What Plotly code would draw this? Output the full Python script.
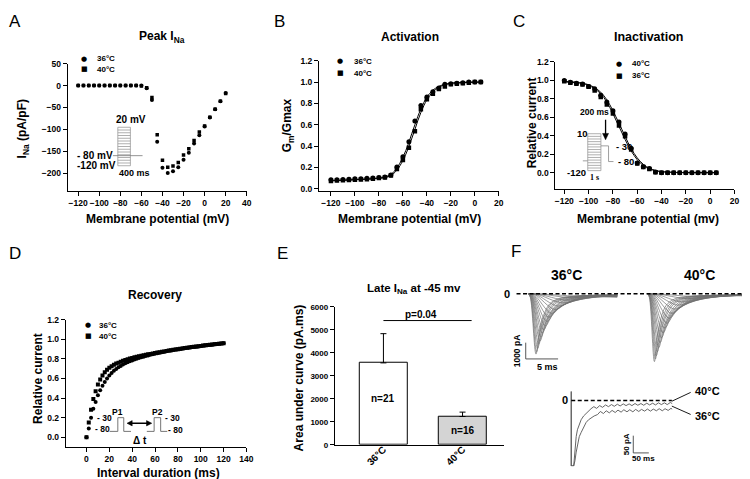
import plotly.graph_objects as go

W, H = 750, 479

# ---------------- data ----------------
# A: peak I_Na (pA/pF) vs membrane potential (mV)
a_volt = [-120, -115, -110, -105, -100, -95, -90, -85, -80, -75, -70, -65, -60,
          -55, -50, -45, -40, -35, -30, -25, -20, -15, -10, -5, 0, 5, 10, 15, 20]
a_36 = [0, 0, 0, 0, 0, 0, 0, 0, 0, 0, 0, 0, 0,
        -6, -33, -128, -187, -199, -195, -186, -169, -153, -132, -113, -93, -73, -54, -36, -17]
a_40 = [0, 0, 0, 0, 0, 0, 0, 0, 0, 0, 0, 0, -1,
        -5, -27, -112, -170, -186, -183, -175, -158, -144, -125, -106, -92, -72, -54, -36, -18]

# B: activation G/Gmax
b_volt = [-120, -115, -110, -105, -100, -95, -90, -85, -80, -75, -70, -65, -60,
          -55, -50, -45, -40, -35, -30, -25, -20, -15, -10, -5, 0, 5]
b_36 = [0.085, 0.085, 0.087, 0.09, 0.093, 0.095, 0.098, 0.1, 0.105, 0.11, 0.13, 0.205, 0.3,
        0.44, 0.635, 0.78, 0.86, 0.91, 0.945, 0.98, 0.985, 0.99, 0.995, 1.0, 1.0, 1.0]
b_40 = [0.073, 0.077, 0.08, 0.083, 0.085, 0.088, 0.09, 0.095, 0.1, 0.105, 0.125, 0.185, 0.27,
        0.385, 0.54, 0.745, 0.84, 0.89, 0.935, 0.96, 0.98, 0.985, 0.99, 0.995, 1.0, 1.0]
b_fit_v = [-120, -110, -100, -90, -80, -75, -70, -67.5, -65, -62.5, -60, -57.5, -55, -52.5,
           -50, -47.5, -45, -42.5, -40, -37.5, -35, -30, -25, -20, -10, 5]
b_fit_36 = [0.075, 0.08, 0.085, 0.09, 0.1, 0.11, 0.135, 0.16, 0.195, 0.24, 0.295, 0.36, 0.435, 0.52,
            0.6, 0.68, 0.75, 0.81, 0.86, 0.895, 0.925, 0.96, 0.98, 0.99, 0.997, 1.0]
b_fit_40 = [0.075, 0.08, 0.085, 0.09, 0.098, 0.105, 0.125, 0.145, 0.175, 0.215, 0.265, 0.325, 0.395, 0.475,
            0.555, 0.64, 0.715, 0.78, 0.835, 0.875, 0.91, 0.95, 0.975, 0.988, 0.996, 1.0]

# C: steady-state inactivation
c_volt = b_volt
c_40 = [1.0, 0.98, 0.97, 0.96, 0.935, 0.91, 0.84, 0.765, 0.67, 0.55, 0.42, 0.265, 0.105,
        0.065, 0.045, 0.007, 0, 0, 0, 0, 0, 0, 0, 0, 0, 0]
c_36 = [0.99, 0.975, 0.965, 0.955, 0.93, 0.89, 0.82, 0.74, 0.64, 0.51, 0.395, 0.25, 0.1,
        0.06, 0.04, 0.005, 0, 0, 0, 0, 0, 0, 0, 0, 0, 0]
c_fit_v = [-120, -110, -105, -100, -95, -90, -87.5, -85, -82.5, -80, -77.5, -75, -72.5,
           -70, -67.5, -65, -62.5, -60, -57.5, -55, -52.5, -50, -45, -40, -30, -20, 5]
c_fit_36 = [0.985, 0.975, 0.965, 0.945, 0.91, 0.855, 0.815, 0.765, 0.705, 0.64, 0.57, 0.5, 0.43,
            0.36, 0.295, 0.235, 0.185, 0.14, 0.105, 0.078, 0.057, 0.041, 0.02, 0.01, 0.003, 0.001, 0]
c_fit_40 = [0.988, 0.98, 0.97, 0.953, 0.922, 0.872, 0.835, 0.79, 0.735, 0.672, 0.605, 0.535, 0.465,
            0.395, 0.325, 0.262, 0.207, 0.16, 0.122, 0.09, 0.066, 0.048, 0.024, 0.012, 0.003, 0.001, 0]

# D: recovery from inactivation
d_time = list(range(0, 122, 2))
d_40 = [0, 0.15, 0.28, 0.39, 0.47, 0.54, 0.59, 0.63, 0.665, 0.69, 0.71, 0.725, 0.74, 0.752, 0.762,
        0.772, 0.781, 0.789, 0.797, 0.804, 0.81, 0.816, 0.822, 0.827, 0.832, 0.837, 0.842, 0.847,
        0.851, 0.856, 0.86, 0.865, 0.869, 0.873, 0.877, 0.881, 0.885, 0.889, 0.893, 0.897, 0.9,
        0.904, 0.907, 0.911, 0.914, 0.917, 0.921, 0.924, 0.927, 0.93, 0.933, 0.936, 0.939, 0.942,
        0.945, 0.948, 0.951, 0.953, 0.956, 0.958, 0.961]
d_36 = [0, 0.09, 0.2, 0.29, 0.36, 0.43, 0.48, 0.525, 0.565, 0.6, 0.63, 0.655, 0.678, 0.697, 0.714,
        0.729, 0.743, 0.755, 0.766, 0.776, 0.785, 0.794, 0.802, 0.809, 0.816, 0.823, 0.83, 0.836,
        0.842, 0.848, 0.854, 0.859, 0.864, 0.869, 0.874, 0.878, 0.883, 0.887, 0.891, 0.895, 0.899,
        0.902, 0.906, 0.909, 0.913, 0.916, 0.919, 0.922, 0.925, 0.928, 0.931, 0.934, 0.937, 0.94,
        0.943, 0.946, 0.949, 0.952, 0.955, 0.958, 0.96]

# E: late I_Na area under curve
e_groups = ["36°C", "40°C"]
e_mean = [3560, 1230]
e_sem = [1270, 190]
e_n = ["n=21", "n=16"]
e_n_pos = [2000, 640]
e_p_text = "p=0.04"
e_p_level = 5400

# F: current families (peak time ms, peak amplitude pA) and shared waveform
f36_tpeak = [1.16, 1.26, 1.41, 1.57, 1.77, 1.92, 2.12, 2.32, 2.58, 2.83, 3.13, 3.54, 4.04, 4.55, 5.2, 5.81, 6.57, 7.32]
f36_amp = [3693, 3553, 3353, 3094, 2894, 2655, 2395, 2196, 1956, 1697, 1437, 1198, 958, 758, 559, 399, 240, 140]
f40_tpeak = [1.01, 1.16, 1.31, 1.46, 1.67, 1.87, 2.07, 2.32, 2.58, 2.88, 3.23, 3.64, 4.09, 4.6, 5.2, 6.0, 6.72]
f40_amp = [4152, 3992, 3792, 3553, 3293, 2994, 2695, 2395, 2096, 1796, 1497, 1198, 938, 699, 499, 299, 160]
wave_rel_t = [0, 0.25, 1.0, 1.45, 2.0, 2.8, 4.0, 6.0, 9.0]
wave_frac = [0, 0.06, 1.0, 0.62, 0.36, 0.17, 0.08, 0.04, 0.025]
f36_end, f40_end = 13.6, 16.5

# F lower: late current (ms, pA)
late40_t = [0, 0, 8, 12, 16, 20, 26, 32, 40, 48, 56, 64, 73, 82, 92, 101, 111, 120, 130, 139, 149, 158,
            168, 177, 187, 196, 206, 215, 225, 234, 244, 253, 263, 272, 282, 291, 301, 310, 320, 326]
late40_i = [26, -190, -190, -140, -105, -85, -68, -56, -45, -37, -31, -24, -18, -23, -15, -20, -13, -18,
            -12, -17, -11, -16, -10, -15, -10, -15, -9, -14, -9, -14, -8, -13, -8, -13, -7, -12, -7, -12, -6, -9]
late36_t = [0, 0, 8, 12, 16, 21, 26, 32, 40, 48, 56, 64, 74, 85, 94, 104, 113, 123, 132, 142, 151, 161,
            170, 180, 189, 199, 208, 218, 227, 237, 246, 256, 265, 275, 284, 294, 303, 313, 322, 326]
late36_i = [26, -190, -190, -175, -150, -121, -105, -93, -76, -64, -56, -50, -45, -41, -32, -38, -30, -36,
            -29, -35, -28, -34, -27, -33, -27, -33, -26, -32, -26, -31, -25, -31, -25, -30, -24, -30, -24,
            -29, -23, -25]

# ---------------- helpers ----------------
FONT = "Liberation Sans, Arial, sans-serif"


def px(x):
    return x / W


def py(y):
    return 1 - y / H


def dom_x(x0, x1):
    return [px(x0), px(x1)]


def dom_y(top, bottom):
    return [py(bottom), py(top)]


annotations = []
shapes = []


def label(x, y, text, size=11, bold=True, angle=0, xanchor="center", family=FONT):
    annotations.append(dict(
        x=px(x), y=py(y), xref="paper", yref="paper", showarrow=False,
        text=f"<b>{text}</b>" if bold else text, textangle=angle,
        xanchor=xanchor, yanchor="middle",
        font=dict(size=size, color="black", family=family),
    ))


def seg(x0, y0, x1, y1, color="black", width=1, dash="solid"):
    shapes.append(dict(type="line", xref="paper", yref="paper",
                       x0=px(x0), y0=py(y0), x1=px(x1), y1=py(y1),
                       line=dict(color=color, width=width, dash=dash)))


def tri(points, color="black"):
    # small filled arrowhead, corners given in pixels
    path = "M " + " L ".join(f"{px(x):.5f},{py(y):.5f}" for x, y in points) + " Z"
    shapes.append(dict(type="path", xref="paper", yref="paper", path=path,
                       fillcolor=color, line=dict(color=color, width=0.5)))


def legend_rows(x_mark, x_text, y_rows, symbols, texts):
    for y, s, t in zip(y_rows, symbols, texts):
        label(x_mark, y, s, size=7, bold=False, family="DejaVu Sans")
        label(x_text, y, t, size=8, xanchor="left")


axis_style = dict(showline=True, linecolor="black", linewidth=1, ticks="outside", ticklen=4,
                  tickwidth=1, tickcolor="black", showgrid=False, zeroline=False, tickangle=0,
                  tickfont=dict(size=8.5, color="black", family=FONT, weight="bold"))
hidden = dict(visible=False, showgrid=False, zeroline=False)

fig = go.Figure()
mk = dict(color="black", size=4)

# A
fig.add_trace(go.Scatter(x=a_volt, y=a_36, mode="markers", marker=dict(mk, symbol="circle"),
                         name="36°C", xaxis="x", yaxis="y"))
fig.add_trace(go.Scatter(x=a_volt, y=a_40, mode="markers", marker=dict(mk, symbol="square", size=3.5),
                         name="40°C", xaxis="x", yaxis="y"))
# B
for yv in (b_fit_36, b_fit_40):
    fig.add_trace(go.Scatter(x=b_fit_v, y=yv, mode="lines", line=dict(color="black", width=1, shape="spline"),
                             xaxis="x2", yaxis="y2", hoverinfo="skip"))
fig.add_trace(go.Scatter(x=b_volt, y=b_36, mode="markers", marker=dict(mk, symbol="circle", size=5),
                         name="36°C", xaxis="x2", yaxis="y2"))
fig.add_trace(go.Scatter(x=b_volt, y=b_40, mode="markers", marker=dict(mk, symbol="square", size=4.5),
                         name="40°C", xaxis="x2", yaxis="y2"))
# C
for yv in (c_fit_36, c_fit_40):
    fig.add_trace(go.Scatter(x=c_fit_v, y=yv, mode="lines", line=dict(color="black", width=1, shape="spline"),
                             xaxis="x3", yaxis="y3", hoverinfo="skip"))
fig.add_trace(go.Scatter(x=c_volt, y=c_40, mode="markers", marker=dict(mk, symbol="circle", size=5),
                         name="40°C", xaxis="x3", yaxis="y3"))
fig.add_trace(go.Scatter(x=c_volt, y=c_36, mode="markers", marker=dict(mk, symbol="square", size=4.5),
                         name="36°C", xaxis="x3", yaxis="y3"))
# D
fig.add_trace(go.Scatter(x=d_time, y=d_36, mode="markers", marker=dict(mk, symbol="circle", size=4),
                         name="36°C", xaxis="x4", yaxis="y4"))
fig.add_trace(go.Scatter(x=d_time, y=d_40, mode="markers", marker=dict(mk, symbol="square", size=4),
                         name="40°C", xaxis="x4", yaxis="y4"))
# E
fig.add_trace(go.Bar(x=e_groups, y=e_mean, width=0.605,
                     marker=dict(color=["white", "#d4d4d4"], line=dict(color="black", width=1)),
                     error_y=dict(type="data", array=e_sem, arrayminus=[0, 0], symmetric=False,
                                  color="black", thickness=1, width=3),
                     xaxis="x5", yaxis="y5"))


# F families
def family_trace(tp, amp, t_end, xa, ya):
    t = [tp * r for r in wave_rel_t if tp * r < t_end] + [t_end]
    i = [-amp * f for r, f in zip(wave_rel_t, wave_frac) if tp * r < t_end]
    i.append(i[-1])
    return go.Scatter(x=t, y=i, mode="lines", line=dict(color="#707070", width=0.7, shape="spline"),
                      xaxis=xa, yaxis=ya, hoverinfo="skip")


for tp, amp in zip(f36_tpeak, f36_amp):
    fig.add_trace(family_trace(tp, amp, f36_end, "x6", "y6"))
for tp, amp in zip(f40_tpeak, f40_amp):
    fig.add_trace(family_trace(tp, amp, f40_end, "x7", "y7"))

fig.add_trace(go.Scatter(x=late36_t, y=late36_i, mode="lines", line=dict(color="#555", width=0.9),
                         xaxis="x8", yaxis="y8", hoverinfo="skip"))
fig.add_trace(go.Scatter(x=late40_t, y=late40_i, mode="lines", line=dict(color="#555", width=0.9),
                         xaxis="x8", yaxis="y8", hoverinfo="skip"))

# ---------------- layout / axes ----------------
layout = dict(
    width=W, height=H, autosize=False, margin=dict(l=0, r=0, t=0, b=0),
    paper_bgcolor="white", plot_bgcolor="white", showlegend=False,
    font=dict(family=FONT, color="black"),
    bargap=0,
)
layout["xaxis"] = dict(axis_style, domain=dom_x(59.3, 240.3), range=[-130, 40], dtick=20, tick0=0, anchor="y")
layout["yaxis"] = dict(axis_style, domain=dom_y(51.7, 181.7), range=[-240, 50], dtick=50, tick0=0, anchor="x")
layout["xaxis2"] = dict(axis_style, domain=dom_x(313.3, 495.1), range=[-130, 20], dtick=20, tick0=0, anchor="y2")
layout["yaxis2"] = dict(axis_style, domain=dom_y(48.8, 181.7), range=[-0.02, 1.2], dtick=0.2, tick0=0,
                        tickformat=".1f", anchor="x2")
layout["xaxis3"] = dict(axis_style, domain=dom_x(552.3, 733.3), range=[-127.3, 20], dtick=20, tick0=0, anchor="y3")
layout["yaxis3"] = dict(axis_style, domain=dom_y(50, 180), range=[-0.18, 1.2], dtick=0.2, tick0=0,
                        tickformat=".1f", anchor="x3")
layout["xaxis4"] = dict(axis_style, domain=dom_x(57.3, 240), range=[-18.2, 140], dtick=20, tick0=0, anchor="y4")
layout["yaxis4"] = dict(axis_style, domain=dom_y(313.3, 443.3), range=[-0.1, 1.2], dtick=0.2, tick0=0,
                        tickformat=".1f", anchor="x4")
layout["xaxis5"] = dict(axis_style, domain=dom_x(329.3, 500), range=[-0.615, 1.52], anchor="y5",
                        tickangle=-45, ticks="", ticklabelstandoff=-6,
                        tickfont=dict(size=10, color="black", family=FONT, weight="bold"))
layout["yaxis5"] = dict(axis_style, domain=dom_y(300, 441), range=[0, 6000], dtick=1000, anchor="x5",
                        tickfont=dict(size=8, color="black", family=FONT, weight="bold"))
layout["xaxis6"] = dict(hidden, domain=dom_x(513, 625), range=[-1.82, 15.15], anchor="y6")
layout["yaxis6"] = dict(hidden, domain=dom_y(283, 365), range=[-4689, 222], anchor="x6")
layout["xaxis7"] = dict(hidden, domain=dom_x(640, 750), range=[-0.86, 15.8], anchor="y7")
layout["yaxis7"] = dict(hidden, domain=dom_y(283, 365), range=[-4689, 222], anchor="x7")
layout["xaxis8"] = dict(hidden, domain=dom_x(565, 675), range=[-10.5, 340.9], anchor="y8")
layout["yaxis8"] = dict(hidden, domain=dom_y(383, 463), range=[-191.2, 36.1], anchor="x8")

# ---------------- text ----------------
for x, y, t in ((6, 9, "A"), (273, 9, "B"), (516, 9, "C"), (6, 246, "D"), (276, 246, "E"), (512, 244, "F")):
    label(x, y, t, size=17, bold=False)

label(155, 25, "Peak I<sub>Na</sub>", 12)
label(405, 25, "Activation", 12)
label(646.7, 25, "Inactivation", 12.5)
label(148, 288, "Recovery", 12)
label(409, 282, "Late I<sub>Na</sub> at -45 mv", 11.5)

label(150, 210, "Membrane potential (mV)", 12)
label(405, 210, "Membrane potential (mV)", 12)
label(645.7, 210, "Membrane potential (mv)", 12)
label(151, 469.5, "Interval duration (ms)", 12)

label(14, 118, "I<sub>Na</sub> (pA/pF)", 12, angle=-90)
label(281.7, 115, "G<sub>m</sub>/Gmax", 12, angle=-90)
label(528.3, 112, "Relative current", 12, angle=-90)
label(30, 373, "Relative current", 12, angle=-90)
label(293.3, 373, "Area under curve (pA.ms)", 12, angle=-90)

legend_rows(76, 87, (46.7, 57.3), ("●", "■"), ("36°C", "40°C"))
legend_rows(335, 347, (49.3, 61.7), ("●", "■"), ("36°C", "40°C"))
legend_rows(616.7, 628, (51.7, 64.3), ("●", "■"), ("40°C", "36°C"))
legend_rows(80, 89, (319, 330), ("●", "■"), ("36°C", "40°C"))

# A inset: voltage protocol
shapes.append(dict(type="rect", xref="paper", yref="paper", x0=px(110), x1=px(122.7), y0=py(116.7), y1=py(156),
                   line=dict(color="#9a9a9a", width=0.8), fillcolor="white"))
for k in range(1, 14):
    yy = 116.7 + k * (156 - 116.7) / 14
    seg(110, yy, 122.7, yy, color="#9a9a9a", width=0.8)
seg(105, 145.7, 135, 145.7, color="#777", width=0.8)
label(123.3, 108.3, "20 mV", 10)
label(86.7, 145.2, "- 80 mV", 10)
label(88.3, 156, "-120 mV", 10)
label(126.7, 163.5, "400 ms", 9)

# C inset
shapes.append(dict(type="rect", xref="paper", yref="paper", x0=px(585), x1=px(598.3), y0=py(123.3), y1=py(161),
                   line=dict(color="#9a9a9a", width=0.8), fillcolor="white"))
for k in range(1, 14):
    yy = 123.3 + k * (161 - 123.3) / 14
    seg(585, yy, 598.3, yy, color="#9a9a9a", width=0.8)
seg(580, 151, 585, 151, color="#888", width=0.8)
seg(598.3, 135.7, 606, 135.7, color="#888", width=0.8)
seg(606, 135.7, 606, 151.7, color="#888", width=0.8)
seg(606, 151.7, 611, 151.7, color="#888", width=0.8)
label(579.5, 123.3, "10", 9.5)
label(574, 163, "-120", 9.5)
label(591.7, 168.5, "1 s", 8, family="Liberation Serif, serif")
label(591.7, 101.5, "200 ms", 8.5)
seg(603, 109, 603, 124, width=1.3)
tri([(600, 123), (606, 123), (603, 129.5)])
label(622, 136.5, "- 30", 9.5)
label(624, 151.5, "- 80", 9.5)

# D inset: two-pulse protocol
for (x0, y0, x1, y1) in ((101.7, 427.3, 110, 427.3), (110, 427.3, 110, 413.3), (110, 413.3, 116, 413.3),
                         (116, 413.3, 116, 427.3), (116, 427.3, 123.3, 427.3),
                         (139.3, 427.3, 146.7, 427.3), (146.7, 427.3, 146.7, 413.3),
                         (146.7, 413.3, 153.3, 413.3), (153.3, 413.3, 153.3, 427.3), (153.3, 427.3, 160, 427.3)):
    seg(x0, y0, x1, y1, color="#666", width=0.9)
seg(123, 419, 140.5, 419, width=1.5)
tri([(119.3, 419), (124.5, 416.3), (124.5, 421.7)])
tri([(144.3, 419), (139, 416.3), (139, 421.7)])
label(97, 414, "- 30", 8.5)
label(95, 425, "- 80", 8.5)
label(110, 408, "P1", 8.5)
label(150, 408, "P2", 8.5)
label(165, 414, "- 30", 8.5)
label(168, 425.5, "- 80", 8.5)
label(132, 436.7, "Δ t", 10)

# E annotations
for k, (txt, yv) in enumerate(zip(e_n, e_n_pos)):
    annotations.append(dict(x=k, y=yv, xref="x5", yref="y5", text=f"<b>{txt}</b>", showarrow=False,
                            font=dict(size=10, color="black")))
shapes.append(dict(type="line", xref="x5", yref="y5", x0=0, x1=1.115, y0=e_p_level, y1=e_p_level,
                   line=dict(color="black", width=1)))
label(416.7, 307.5, e_p_text, 10)

# F upper labels, baseline, scale bars
label(563.3, 267.3, "36°C", 14)
label(698.3, 267.3, "40°C", 14)
label(503, 286.7, "0", 11)
seg(513, 286.7, 750, 286.7, width=1.6, dash="4px,2.5px")
seg(522.3, 336.7, 522.3, 353.3, color="#444", width=0.9)
seg(522.3, 353.3, 555, 353.3, color="#444", width=0.9)
label(513, 345, "1000 pA", 8.5, angle=-90)
label(544, 361.5, "5 ms", 9)

# F lower
label(561.7, 395.7, "0", 11)
seg(568.3, 395.7, 670, 395.7, width=1.6, dash="4px,2.5px")
seg(670, 396.5, 689, 387.5, width=0.9)
seg(670, 401.5, 689, 410, width=0.9)
label(691, 386.5, "40°C", 11, xanchor="left")
label(691.5, 411.7, "36°C", 11, xanchor="left")
seg(631, 431.7, 631, 449.3, color="#444", width=0.9)
seg(631, 449.3, 646.7, 449.3, color="#444", width=0.9)
label(624, 440, "50 pA", 8, angle=-90)
label(641, 454.5, "50 ms", 8)

layout["annotations"] = annotations
layout["shapes"] = shapes
fig.update_layout(**layout)
fig.write_html("out.html")
